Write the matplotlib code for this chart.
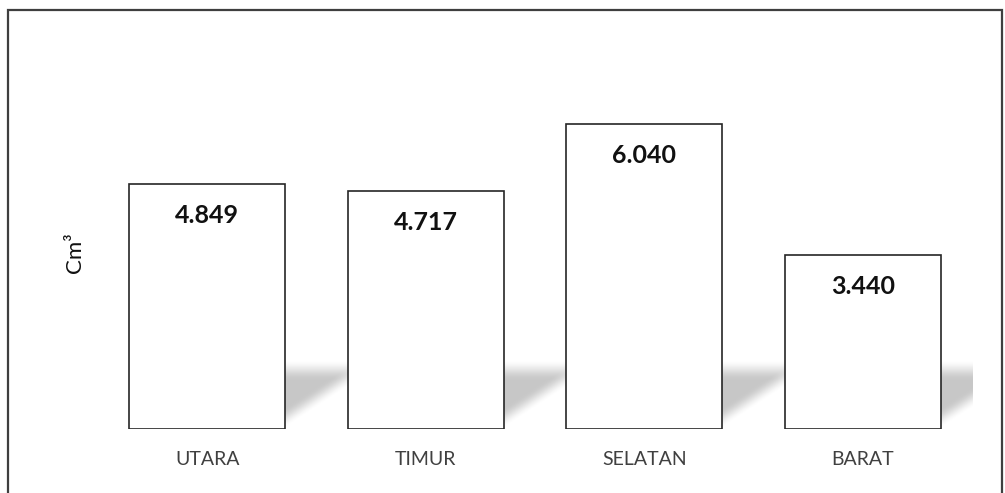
import numpy as np
import matplotlib
matplotlib.use("Agg")
import matplotlib.pyplot as plt
from matplotlib.patches import Rectangle

categories = ["UTARA", "TIMUR", "SELATAN", "BARAT"]
values = [4.849, 4.717, 6.040, 3.440]
value_labels = ["4.849", "4.717", "6.040", "3.440"]
y_label = "Cm³"

plt.rcParams['font.family'] = ['Lato', 'DejaVu Sans']

W, H = 1005, 493
fig = plt.figure(figsize=(W / 100, H / 100), dpi=100)
ax_left, ax_right = 98 / W, 972 / W
ax_bottom = (H - 429) / H
ax_top = (H - 75.5) / H
ax = fig.add_axes([ax_left, ax_bottom, ax_right - ax_left, ax_top - ax_bottom])

x = np.arange(len(categories))
bar_w = 0.715

# perspective-like floor shadows
sh_w, sh_h = 0.29, 1.38
nu, nv = 80, 80
u = np.linspace(0, 1, nu)[None, :]
v = np.linspace(1, 0, nv)[:, None]
top = np.clip((1 - v) / 0.3, 0, 1)
top = top * top * (3 - 2 * top)
vlow = 0.0 + 0.6 * u
low = np.clip((v - vlow) / 0.3, 0, 1)
low = low * low * (3 - 2 * low)
alpha = 0.22 * top * low
img = np.zeros((nv, nu, 4))
img[..., 3] = alpha
for xi in x:
    x0 = xi + bar_w / 2
    ax.imshow(img, extent=[x0, x0 + sh_w, 0, sh_h], aspect='auto',
              interpolation='bilinear', zorder=1)

ax.bar(x, values, width=bar_w, color='white', edgecolor='#262626',
       linewidth=1.2, zorder=2)

for xi, val, lab in zip(x, values, value_labels):
    ax.annotate(lab, (xi, val), xytext=(0, -22.5), textcoords='offset points',
                ha='center', va='center', fontsize=18, fontweight='bold',
                color='#111111', zorder=3)

ax.set_xlim(-0.5, 3.5)
ax.set_ylim(0, 7)
ax.set_xticks(x)
ax.set_xticklabels(categories, fontsize=14, color='#404040')
ax.tick_params(axis='x', length=0, pad=16)
ax.set_yticks([])
for s in ax.spines.values():
    s.set_visible(False)
ax.set_facecolor('none')

fig.text(75 / W, (H - 253) / H, y_label, rotation=90, ha='center', va='center',
         fontsize=16, color='#111111')

fig.patches.append(Rectangle((8 / W, -0.1), (1002 - 8) / W, (H - 10) / H + 0.1,
                             transform=fig.transFigure, fill=False,
                             edgecolor='#3f3f3f', linewidth=1.6))

fig.savefig("out.png", dpi=100)
